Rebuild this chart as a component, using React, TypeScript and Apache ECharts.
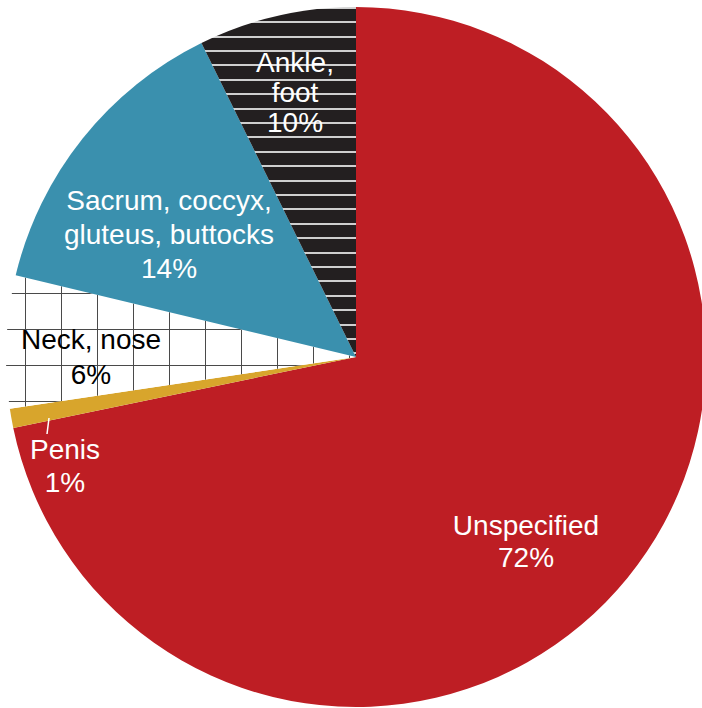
import React, { useEffect, useRef } from "react";
import * as echarts from "echarts";

// ---- data ----
const categories = ["Unspecified", "Penis", "Neck, nose", "Sacrum, coccyx, gluteus, buttocks", "Ankle, foot"];
const labelNames = ["Unspecified", "Penis", "Neck, nose", "Sacrum, coccyx,\ngluteus, buttocks", "Ankle,\nfoot"];
// angular shares as drawn in the picture
const sliceValues = [71.75, 0.89, 6.11, 13.97, 7.28];
// percentages as printed on the labels
const percentLabels = ["72%", "1%", "6%", "14%", "10%"];

// ---- styling / layout (not data) ----
const RED = "#be1e24";
const GOLD = "#d8a52c";
const BLUE = "#3a90ae";
const LABEL_COLORS = ["#ffffff", "#ffffff", "#000000", "#ffffff", "#ffffff"];
const LABEL_POS: [number, number][] = [
  [526, 541],
  [65, 466],
  [91, 357],
  [169, 234],
  [295, 92],
];
const LINE_HEIGHTS = [32, 33, 35, 34, 30];

function makeGrid(): HTMLCanvasElement {
  const c = document.createElement("canvas");
  c.width = 36;
  c.height = 36;
  const ctx = c.getContext("2d")!;
  ctx.fillStyle = "#ffffff";
  ctx.fillRect(0, 0, 36, 36);
  ctx.fillStyle = "#4a4a4a";
  ctx.fillRect(25, 0, 1, 36);
  ctx.fillRect(0, 5, 36, 1);
  return c;
}

function makeStripes(): HTMLCanvasElement {
  const c = document.createElement("canvas");
  c.width = 8;
  c.height = 72;
  const ctx = c.getContext("2d")!;
  ctx.fillStyle = "#231f20";
  ctx.fillRect(0, 0, 8, 72);
  ctx.fillStyle = "#cfcfcf";
  [7, 21, 36, 50, 64].forEach((y) => ctx.fillRect(0, y, 8, 2));
  return c;
}

export default function App() {
  const ref = useRef<HTMLDivElement>(null);
  useEffect(() => {
    if (!ref.current) return;
    const chart = echarts.init(ref.current, null, { renderer: "svg" });
    const grid = makeGrid();
    const stripes = makeStripes();
    const fills: any[] = [
      RED,
      GOLD,
      { image: grid, repeat: "repeat", imageWidth: 36, imageHeight: 36 },
      BLUE,
      { image: stripes, repeat: "repeat", imageWidth: 8, imageHeight: 72 },
    ];
    const data = categories.map((name, i) => ({
      name,
      value: sliceValues[i],
      itemStyle: { color: fills[i] },
      label: { color: LABEL_COLORS[i], lineHeight: LINE_HEIGHTS[i] },
    }));
    chart.setOption({
      animation: false,
      backgroundColor: "#ffffff",
      series: [
        {
          type: "pie",
          center: [356, 357],
          radius: [0, 350],
          startAngle: 90,
          clockwise: true,
          silent: true,
          avoidLabelOverlap: false,
          itemStyle: { borderWidth: 0 },
          emphasis: { disabled: true },
          label: {
            show: true,
            position: "inside",
            fontFamily: "Liberation Sans, Arial, sans-serif",
            fontSize: 28,
            align: "center",
            formatter: (p: any) => `${labelNames[p.dataIndex]}\n${percentLabels[p.dataIndex]}`,
          },
          labelLine: { show: false },
          labelLayout: (p: any) => ({
            x: LABEL_POS[p.dataIndex][0],
            y: LABEL_POS[p.dataIndex][1],
            align: "center",
            verticalAlign: "middle",
          }),
          data,
        },
      ],
      graphic: [
        {
          type: "line",
          silent: true,
          shape: { x1: 49, y1: 418, x2: 47, y2: 434 },
          style: { stroke: "#ffffff", lineWidth: 1.5 },
          z: 100,
        },
      ],
    });
    return () => chart.dispose();
  }, []);
  return (
    <div
      ref={ref}
      style={{ position: "fixed", left: 0, top: 0, width: 702, height: 708 }}
    />
  );
}
